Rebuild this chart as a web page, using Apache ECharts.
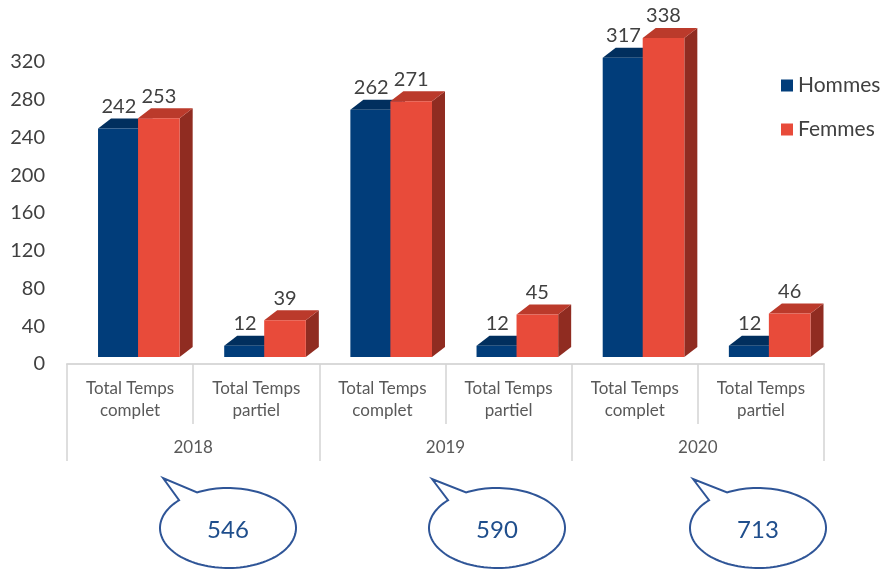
<!DOCTYPE html>
<html><head><meta charset="utf-8">
<script src="https://cdn.jsdelivr.net/npm/echarts@6/dist/echarts.min.js"></script>
<style>html,body{margin:0;padding:0;background:#fff}#c{width:882px;height:570px}</style>
</head><body><div id="c"></div>
<script>
const categories = ['Total Temps\ncomplet','Total Temps\npartiel','Total Temps\ncomplet','Total Temps\npartiel','Total Temps\ncomplet','Total Temps\npartiel'];
const years = ['2018','2019','2020'];
const hommes = [242,12,262,12,317,12];
const femmes = [253,39,271,45,338,46];
const totals = [546,590,713];

const FONT = 'Lato';
const C = {
  blue: {front:'#013d7a', top:'#012f5e', side:'#01284f'},
  red:  {front:'#e84b3a', top:'#bb3a2b', side:'#902c21'}
};

function makeRender(col, offFrac) {
  return function(params, api) {
    const cat = api.value(0), val = api.value(1);
    const base = api.coord([cat, 0]);
    const top = api.coord([cat, val]);
    const bw = api.size([1, 0])[0];
    const w = bw * 0.33;
    const x0 = base[0] + bw * offFrac;
    const lift = 7, dx = 13, dy = 10;
    const yb = base[1] - lift, yt = top[1] - lift;
    return {
      type: 'group',
      children: [
        {type:'polygon', shape:{points:[[x0+w,yt],[x0+w+dx,yt-dy],[x0+w+dx,yb-dy],[x0+w,yb]]}, style:{fill:col.side}},
        {type:'polygon', shape:{points:[[x0,yt],[x0+w,yt],[x0+w+dx,yt-dy],[x0+dx,yt-dy]]}, style:{fill:col.top}},
        {type:'rect', shape:{x:x0, y:yt, width:w, height:yb-yt}, style:{fill:col.front}},
        {type:'text', x:x0+w/2, y:yt-dy-12, style:{text:String(val), fill:'#404040', font:'20px '+FONT, align:'center', verticalAlign:'middle'}}
      ]
    };
  };
}

function callout(cx, cy, rx, ry, tip, tA, tB, label) {
  const pts = [tip];
  const toRad = d => d*Math.PI/180;
  for (let a = tB; a >= tA - 360; a -= 3) {
    pts.push([cx + rx*Math.cos(toRad(a)), cy + ry*Math.sin(toRad(a))]);
  }
  pts.push([cx + rx*Math.cos(toRad(tA)), cy + ry*Math.sin(toRad(tA))]);
  return [
    {type:'polygon', shape:{points:pts}, style:{fill:'#fff', stroke:'#2f5597', lineWidth:2}},
    {type:'text', x:cx, y:cy+2, style:{text:label, fill:'#1f4e8c', font:'24px '+FONT, align:'center', verticalAlign:'middle'}}
  ];
}

const chart = echarts.init(document.getElementById('c'));
const calloutSpec = [
  {cx:228, cy:528, tip:[163,478]},
  {cx:497, cy:528, tip:[432,479]},
  {cx:758, cy:528, tip:[693,479]}
];
let graphics = [];
calloutSpec.forEach((s,i) => { graphics = graphics.concat(callout(s.cx, s.cy, 68, 40, s.tip, 243, 224, String(totals[i]))); });

chart.setOption({
  animation: false,
  textStyle: {fontFamily: FONT},
  grid: {left: 67, right: 58, top: 62, bottom: 206},
  legend: {
    data: ['Hommes','Femmes'], orient:'vertical', left: 776, top: 70,
    icon:'rect', itemWidth: 12, itemHeight: 12, itemGap: 23,
    textStyle: {fontSize: 21, color:'#404040', fontFamily: FONT}
  },
  xAxis: [
    {type:'category', data: categories, position:'bottom',
     axisLine:{lineStyle:{color:'#d9d9d9', width:2}},
     axisTick:{show:true, interval:0, length:60, lineStyle:{color:'#d4d4d4', width:1.5}},
     axisLabel:{interval:0, margin:14, fontSize:17, lineHeight:22, color:'#595959'}},
    {type:'category', data: years, position:'bottom',
     axisLine:{show:false},
     axisTick:{show:true, interval:0, length:97, lineStyle:{color:'#d4d4d4', width:1.5}},
     axisLabel:{interval:0, margin:75, fontSize:17, color:'#595959'}}
  ],
  yAxis: {type:'value', min:0, max:320, interval:40,
    axisLine:{show:false}, axisTick:{show:false}, splitLine:{show:false},
    axisLabel:{fontSize:20, color:'#404040', margin:22}},
  series: [
    {type:'custom', name:'Hommes', xAxisIndex:0, clip:false, itemStyle:{color:C.blue.front},
     encode:{x:0, y:1}, data: hommes.map((v,i)=>[i,v]), renderItem: makeRender(C.blue, -0.254)},
    {type:'custom', name:'Femmes', xAxisIndex:0, clip:false, itemStyle:{color:C.red.front},
     encode:{x:0, y:1}, data: femmes.map((v,i)=>[i,v]), renderItem: makeRender(C.red, 0.063)}
  ],
  graphic: graphics
});
</script></body></html>
